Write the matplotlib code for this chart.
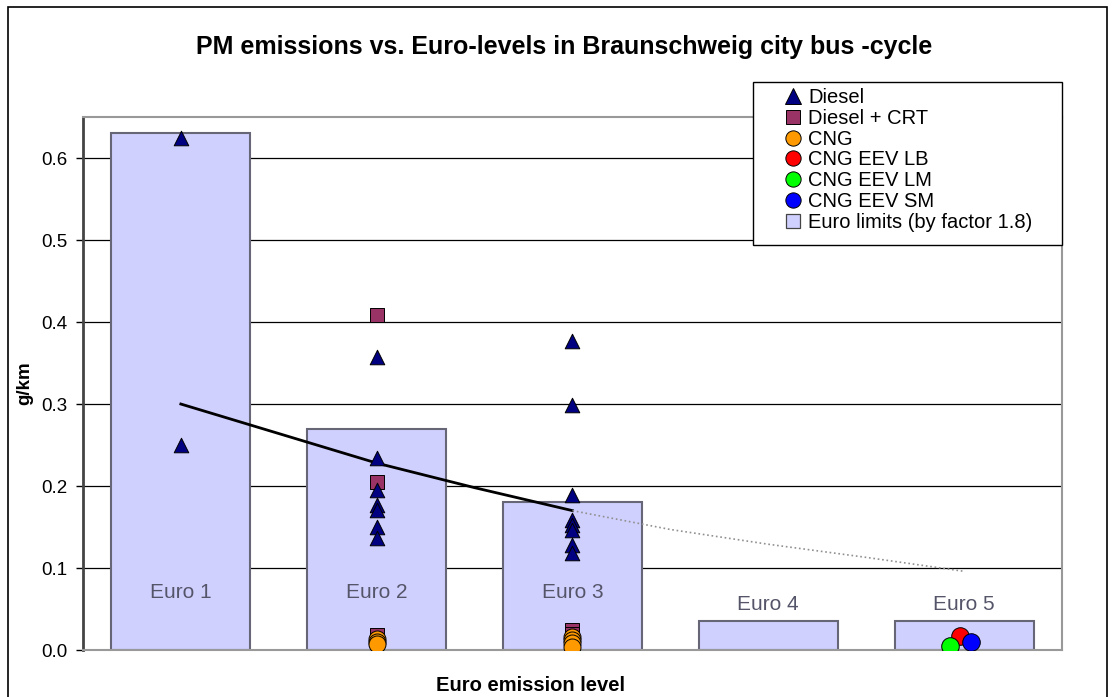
import numpy as np
import matplotlib.pyplot as plt
from matplotlib.lines import Line2D
from matplotlib.patches import Rectangle

plt.rcParams['font.family'] = ['Liberation Sans', 'DejaVu Sans']

# --- data ---
categories = ['Euro 1', 'Euro 2', 'Euro 3', 'Euro 4', 'Euro 5']
cat_x = [1, 2, 3, 4, 5]
euro_limits = [0.63, 0.27, 0.18, 0.036, 0.036]
label_y = [0.07, 0.07, 0.07, 0.055, 0.055]

diesel_x = [1, 1, 2, 2, 2, 2, 2, 2, 2, 3, 3, 3, 3, 3, 3, 3, 3]
diesel_y = [0.624, 0.25,
            0.357, 0.234, 0.195, 0.177, 0.171, 0.150, 0.137,
            0.377, 0.299, 0.189, 0.159, 0.152, 0.146, 0.128, 0.118]

crt_x = [2, 2, 2, 3, 3]
crt_y = [0.408, 0.205, 0.018, 0.025, 0.020]

cng_x = [2, 2, 2, 3, 3, 3, 3]
cng_y = [0.014, 0.010, 0.007, 0.016, 0.012, 0.008, 0.004]

eev_lb = (4.98, 0.017)
eev_lm = (4.93, 0.005)
eev_sm = (5.035, 0.010)

trend_x_solid = [1, 1.5, 2, 2.5, 3]
trend_y_solid = [0.300, 0.264, 0.228, 0.198, 0.170]
trend_x_dot = [3, 3.5, 4, 4.5, 5]
trend_y_dot = [0.170, 0.147, 0.129, 0.113, 0.096]

# --- figure ---
fig = plt.figure(figsize=(11.15, 6.97), dpi=100)
ax = fig.add_axes([0.0744, 0.0674, 0.878, 0.7647])

bar_col = '#D0D0FF'
ax.bar(cat_x, euro_limits, width=0.71, color=bar_col, edgecolor='#666677',
       linewidth=1.5, zorder=1)

for x, y, t in zip(cat_x, label_y, categories):
    ax.text(x, y, t, ha='center', va='center', fontsize=15, color='#55556a', zorder=2)

for v in [0.1, 0.2, 0.3, 0.4, 0.5, 0.6]:
    ax.axhline(v, color='black', lw=0.9, zorder=0.5)

ax.plot(trend_x_solid, trend_y_solid, color='black', lw=2, zorder=3)
ax.plot(trend_x_dot, trend_y_dot, color='#909090', lw=1.2, ls=':', zorder=3)

ax.scatter(crt_x, crt_y, marker='s', s=95, color='#993366', edgecolor='black',
           linewidth=0.7, zorder=4)
ax.scatter(cng_x, cng_y, marker='o', s=150, color='#FF9900', edgecolor='black',
           linewidth=0.7, zorder=5)
ax.scatter(diesel_x, diesel_y, marker='^', s=110, color='#000080', edgecolor='black',
           linewidth=0.7, zorder=6)
ax.scatter([eev_lb[0]], [eev_lb[1]], marker='o', s=160, color='#FF0000',
           edgecolor='black', linewidth=0.7, zorder=6)
ax.scatter([eev_sm[0]], [eev_sm[1]], marker='o', s=160, color='#0000FF',
           edgecolor='black', linewidth=0.7, zorder=7)
ax.scatter([eev_lm[0]], [eev_lm[1]], marker='o', s=160, color='#00FF00',
           edgecolor='black', linewidth=0.7, zorder=8)

ax.set_xlim(0.5, 5.5)
ax.set_ylim(0, 0.65)
ax.set_yticks([0, 0.1, 0.2, 0.3, 0.4, 0.5, 0.6])
ax.set_yticklabels(['0.0', '0.1', '0.2', '0.3', '0.4', '0.5', '0.6'])
ax.set_xticks([])
ax.tick_params(axis='y', labelsize=13.5, length=5, width=1, direction='out', pad=6)

ax.spines['left'].set_color('#444444')
ax.spines['left'].set_linewidth(2)
for s in ['top', 'right', 'bottom']:
    ax.spines[s].set_color('#999999')
    ax.spines[s].set_linewidth(1.5)

ax.set_ylabel('g/km', fontsize=13.5, fontweight='bold')
ax.yaxis.set_label_coords(-0.051, 0.5)
ax.set_xlabel('Euro emission level', fontsize=14.5, fontweight='bold')
ax.xaxis.set_label_coords(0.4576, -0.048)

fig.text(0.506, 0.932, 'PM emissions vs. Euro-levels in Braunschweig city bus -cycle',
         ha='center', va='center', fontsize=18, fontweight='bold')

# legend box drawn separately so the padding matches the original
fig.add_artist(Rectangle((0.6753, 0.6485), 0.2771, 0.2339, transform=fig.transFigure,
                         facecolor='white', edgecolor='black', lw=1, zorder=9))

handles = [
    Line2D([], [], ls='none', marker='^', ms=11, mfc='#000080', mec='black', mew=0.7),
    Line2D([], [], ls='none', marker='s', ms=10, mfc='#993366', mec='black', mew=0.7),
    Line2D([], [], ls='none', marker='o', ms=11, mfc='#FF9900', mec='black', mew=0.7),
    Line2D([], [], ls='none', marker='o', ms=11, mfc='#FF0000', mec='black', mew=0.7),
    Line2D([], [], ls='none', marker='o', ms=11, mfc='#00FF00', mec='black', mew=0.7),
    Line2D([], [], ls='none', marker='o', ms=11, mfc='#0000FF', mec='black', mew=0.7),
    Line2D([], [], ls='none', marker='s', ms=10, mfc=bar_col, mec='#444444', mew=0.9),
]
labels = ['Diesel', 'Diesel + CRT', 'CNG', 'CNG EEV LB', 'CNG EEV LM',
          'CNG EEV SM', 'Euro limits (by factor 1.8)']
leg = fig.legend(handles, labels, loc='upper left', bbox_to_anchor=(0.6987, 0.8737),
                 fontsize=14.5, frameon=False, handlelength=1.4,
                 handletextpad=0.05, labelspacing=0.09, borderpad=0,
                 borderaxespad=0)
leg.set_zorder(10)

fig.add_artist(Rectangle((0.007, -0.05), 0.986, 1.04, transform=fig.transFigure,
                         fill=False, edgecolor='black', lw=1.2))

fig.savefig('out.png', dpi=100)
